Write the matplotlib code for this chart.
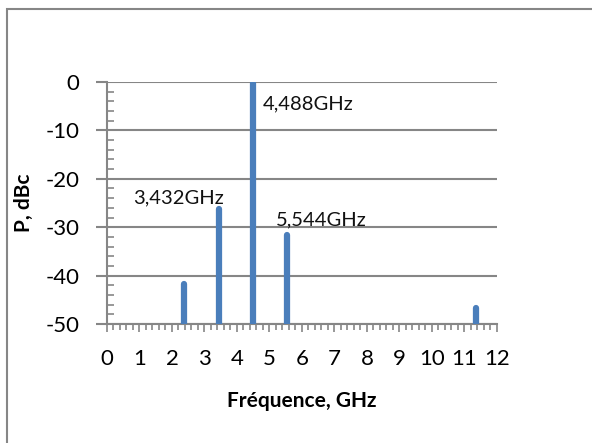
import matplotlib.pyplot as plt
from matplotlib.ticker import MultipleLocator
from matplotlib.patches import Rectangle

# Raies du spectre (GHz, dBc)
frequences = [2.376, 3.432, 4.488, 5.544, 11.36]
puissances = [-41.7, -26.2, -0.3, -31.7, -46.6]

etiquettes = ["3,432GHz", "4,488GHz", "5,544GHz"]
etiq_x = [2.2, 6.2, 6.6]
etiq_y = [-23.9, -4.6, -28.5]

plt.rcParams['font.family'] = ['Lato', 'DejaVu Sans']
plt.rcParams['axes.unicode_minus'] = False

fig = plt.figure(figsize=(5.92, 4.43), dpi=100)
ax = fig.add_axes([0.1807, 0.2686, 0.6588, 0.5463])

gris = '#868686'
bleu = '#4a7ebb'

# cadre du graphique (style Excel)
fig.patches.append(Rectangle((7 / 592, -0.1), 1.2, 1 - 9 / 443 + 0.1,
                             transform=fig.transFigure, fill=False,
                             edgecolor=gris, linewidth=1.5))

ax.vlines(frequences, -50, puissances, colors=bleu, linewidth=4.5,
          capstyle='round', zorder=3)

for txt, x, y in zip(etiquettes, etiq_x, etiq_y):
    ax.text(x, y, txt, ha='center', va='center', fontsize=14.5, color='#111111')

ax.set_xlim(0, 12)
ax.set_ylim(-50, 0)
ax.xaxis.set_major_locator(MultipleLocator(1))
ax.xaxis.set_minor_locator(MultipleLocator(0.2))
ax.yaxis.set_major_locator(MultipleLocator(10))
ax.yaxis.set_minor_locator(MultipleLocator(2))

ax.grid(axis='y', color=gris, linewidth=1.5)
ax.set_axisbelow(True)
for s in ['top', 'right']:
    ax.spines[s].set_visible(False)
for s in ['left', 'bottom']:
    ax.spines[s].set_color(gris)
    ax.spines[s].set_linewidth(1.5)

ax.tick_params(axis='x', which='major', direction='out', length=6, width=1.2,
               color=gris, labelsize=16, pad=12)
ax.tick_params(axis='x', which='minor', direction='out', length=4, width=1.2,
               color=gris)
ax.tick_params(axis='y', which='major', direction='out', length=8, width=1.5,
               color=gris, labelsize=16, pad=12)
ax.tick_params(axis='y', which='minor', direction='in', length=5, width=1.2,
               color=gris)

ax.set_xlabel("Fréquence, GHz", fontsize=15, fontweight='bold', labelpad=16)
ax.set_ylabel("P, dBc", fontsize=15, fontweight='bold', labelpad=8)

fig.savefig("out.png", dpi=100)
